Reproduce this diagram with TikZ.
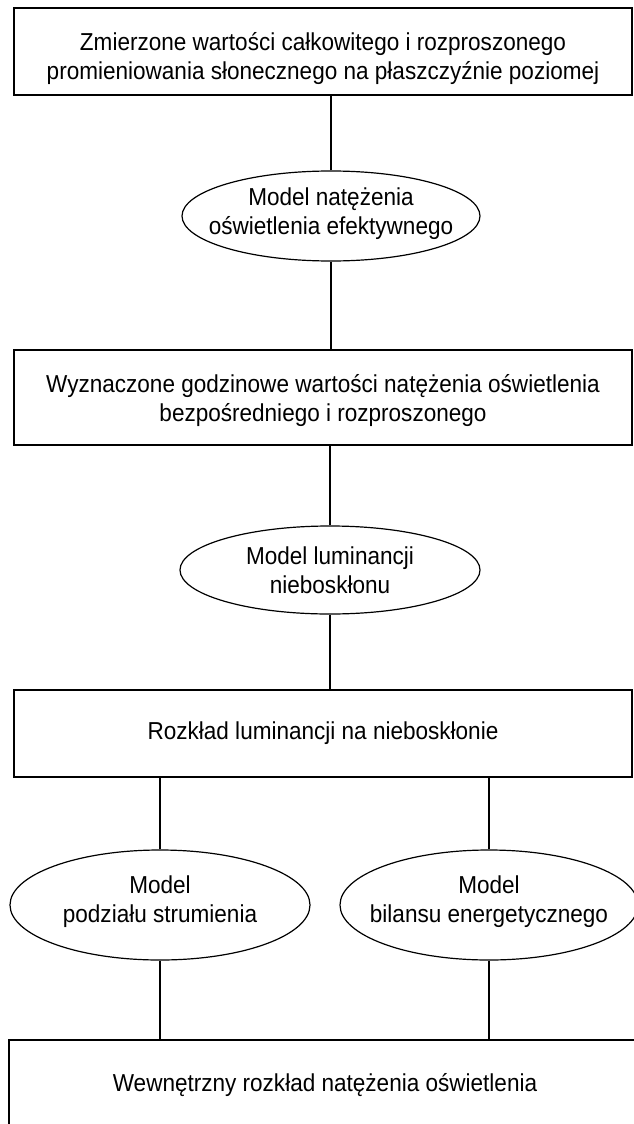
\documentclass[tikz,border=0pt]{standalone}
\usepackage{fontspec}
\setmainfont{Liberation Sans}
\newfontfamily\diagfont[FakeStretch=0.92]{Liberation Sans}
\usetikzlibrary{positioning,shapes.geometric}
\tikzset{
	box/.style={
		rectangle,
		draw,
		line width=1.2pt,
		minimum width=618pt,
		inner sep=0pt
	},
	model/.style={
		ellipse,
		draw,
		line width=1.2pt,
		inner sep=0pt
	},
	txt/.style={
		align=center,
		inner sep=0pt,
		font=\diagfont\fontsize{24.5}{29}\selectfont
	},
	link/.style={line width=1.2pt}
}
\begin{document}
\begin{tikzpicture}[x=1pt,y=-1pt]
		\useasboundingbox (0,0) rectangle (634,1124);
		\node[box,minimum height=87pt,label={[txt,yshift=-7pt]center:Zmierzone wartości całkowitego i rozproszonego\\promieniowania słonecznego na płaszczyźnie poziomej}] (measured) at (323,51.5) {};
		\node[model,minimum width=298pt,minimum height=90pt,label={[txt,yshift=2pt]center:Model natężenia\\oświetlenia efektywnego}] (effmodel) at (331,216) {};
		\node[box,minimum height=95pt,label={[txt,yshift=-3pt]center:Wyznaczone godzinowe wartości natężenia oświetlenia\\bezpośredniego i rozproszonego}] (hourly) at (323,397.5) {};
		\node[model,minimum width=300pt,minimum height=88pt,label={[txt]center:Model luminancji\\nieboskłonu}] (skymodel) at (330,570) {};
		\node[box,minimum height=87pt,label={[txt]center:Rozkład luminancji na nieboskłonie}] (skydist) at (323,733.5) {};
		\node[model,minimum width=300pt,minimum height=110pt,label={[txt,yshift=3pt]center:Model\\podziału strumienia}] (fluxmodel) at (160,905) {};
		\node[model,minimum width=298pt,minimum height=110pt,label={[txt,yshift=3pt]center:Model\\bilansu energetycznego}] (energymodel) at (489,905) {};
		\node[box,minimum width=632pt,minimum height=96pt,label={[txt,yshift=3pt]center:Wewnętrzny rozkład natężenia oświetlenia}] (inside) at (325,1088) {};

		\draw[link] (effmodel.north) -- (effmodel.north |- measured.south);
		\draw[link] (effmodel.south) -- (effmodel.south |- hourly.north);
		\draw[link] (skymodel.north) -- (skymodel.north |- hourly.south);
		\draw[link] (skymodel.south) -- (skymodel.south |- skydist.north);
		\draw[link] (fluxmodel.north) -- (fluxmodel.north |- skydist.south);
		\draw[link] (energymodel.north) -- (energymodel.north |- skydist.south);
		\draw[link] (fluxmodel.south) -- (fluxmodel.south |- inside.north);
		\draw[link] (energymodel.south) -- (energymodel.south |- inside.north);
	\end{tikzpicture}
\end{document}
